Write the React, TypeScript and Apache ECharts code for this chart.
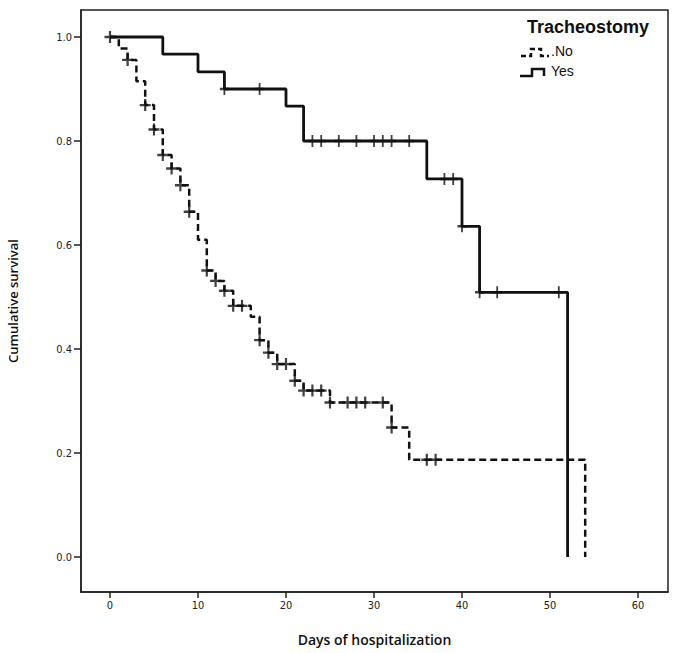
import React, { useEffect, useRef } from "react";
import * as echarts from "echarts";

// Kaplan–Meier step data
const noTimes = [0, 1, 2, 3, 4, 5, 6, 7, 8, 9, 10, 11, 12, 13, 14, 16, 17, 18, 19, 21, 22, 25, 32, 34, 54];
const noSurv = [1, 0.978, 0.956, 0.915, 0.869, 0.822, 0.773, 0.747, 0.715, 0.664, 0.61, 0.551, 0.531, 0.512, 0.483, 0.462, 0.417, 0.393, 0.371, 0.339, 0.32, 0.297, 0.249, 0.187, 0];
const noCensored = [0, 2, 4, 5, 6, 7, 8, 9, 11, 12, 13, 14, 15, 17, 18, 19, 20, 21, 22, 23, 24, 25, 27, 28, 29, 31, 32, 36, 37];

const yesTimes = [0, 6, 10, 13, 20, 22, 36, 40, 42, 52];
const yesSurv = [1, 0.967, 0.933, 0.9, 0.867, 0.8, 0.727, 0.636, 0.509, 0];
const yesCensored = [13, 17, 23, 24, 26, 28, 30, 31, 32, 34, 38, 39, 40, 42, 44, 51];

const xTicks = [0, 10, 20, 30, 40, 50, 60];
const yTicks = [0, 0.2, 0.4, 0.6, 0.8, 1.0];

const legendTitle = "Tracheostomy";
const groupNames = ["No", "Yes"];

function stepAt(times: number[], surv: number[], t: number) {
  let v = surv[0];
  for (let i = 0; i < times.length; i++) {
    if (times[i] <= t) v = surv[i];
  }
  return v;
}

const PLUS = "path://M4,0H6V4H10V6H6V10H4V6H0V4H4Z";

export default function App() {
  const ref = useRef<HTMLDivElement>(null);
  useEffect(() => {
    if (!ref.current) return;
    const chart = echarts.init(ref.current, null, { renderer: "svg" });
    const labelFont = "'Liberation Sans Narrow', 'DejaVu Sans Condensed', 'Liberation Sans', sans-serif";
    const option: any = {
      animation: false,
      backgroundColor: "#fff",
      grid: {
        left: 81,
        right: 7,
        top: 10,
        bottom: 61,
        show: true,
        borderColor: "#222",
        borderWidth: 1.5,
        containLabel: false,
        outerBoundsMode: "none",
      },
      xAxis: {
        type: "value",
        min: (81 - 110) / 8.8,
        max: (668 - 110) / 8.8,
        name: "Days of hospitalization",
        nameLocation: "middle",
        nameGap: 40,
        nameTextStyle: { fontFamily: "'Open Sans', sans-serif", fontWeight: 600, fontSize: 14, color: "#111" },
        axisLine: { show: true, onZero: false, lineStyle: { color: "#222", width: 1.5 } },
        axisTick: { show: true, customValues: xTicks, length: 6, lineStyle: { color: "#222", width: 1.5 } },
        axisLabel: {
          customValues: xTicks,
          fontFamily: labelFont,
          fontSize: 11,
          color: "#222",
          margin: 8,
          formatter: (v: number) => String(Math.round(v)),
        },
        splitLine: { show: false },
      },
      yAxis: {
        type: "value",
        min: -(592 - 557) / 520,
        max: 1 + (37 - 10) / 520,
        name: "Cumulative survival",
        nameLocation: "middle",
        nameGap: 62,
        nameTextStyle: { fontFamily: "'Open Sans', sans-serif", fontWeight: 600, fontSize: 13, color: "#111" },
        axisLine: { show: true, onZero: false, lineStyle: { color: "#222", width: 1.5 } },
        axisTick: { show: true, customValues: yTicks, length: 7, lineStyle: { color: "#222", width: 1.5 } },
        axisLabel: {
          customValues: yTicks,
          fontFamily: labelFont,
          fontSize: 11,
          color: "#222",
          margin: 9,
          formatter: (v: number) => v.toFixed(1),
        },
        splitLine: { show: false },
      },
      series: [
        {
          name: groupNames[0],
          type: "line",
          step: "end",
          showSymbol: false,
          symbol: "none",
          lineStyle: { color: "#111", width: 2.5, type: [7, 4] },
          data: noTimes.map((t, i) => [t, noSurv[i]]),
          z: 2,
        },
        {
          name: groupNames[1],
          type: "line",
          step: "end",
          showSymbol: false,
          symbol: "none",
          lineStyle: { color: "#111", width: 2.8 },
          data: yesTimes.map((t, i) => [t, yesSurv[i]]),
          z: 3,
        },
        {
          name: groupNames[0] + " censored",
          type: "scatter",
          symbol: PLUS,
          symbolSize: [11, 12],
          itemStyle: { color: "#111" },
          data: noCensored.map((t) => [t, stepAt(noTimes, noSurv, t)]),
          z: 4,
        },
        {
          name: groupNames[1] + " censored",
          type: "scatter",
          symbol: PLUS,
          symbolSize: [9, 12],
          itemStyle: { color: "#111" },
          data: yesCensored.map((t) => [t, stepAt(yesTimes, yesSurv, t)]),
          z: 4,
        },
      ],
      graphic: [
        {
          type: "text",
          left: 527,
          top: 18,
          style: { text: legendTitle, fontFamily: "'Liberation Sans', Arial, sans-serif", fontWeight: "bold", fontSize: 18, fill: "#111" },
        },
        {
          type: "polyline",
          shape: { points: [[521, 56], [531, 56], [531, 49], [541, 49], [541, 56], [549, 56]] },
          style: { stroke: "#111", lineWidth: 2.5, lineDash: [5, 3], fill: "none" },
        },
        {
          type: "text",
          left: 551,
          top: 44,
          style: { text: "." + groupNames[0], fontFamily: "'Liberation Sans', Arial, sans-serif", fontSize: 14, fill: "#111" },
        },
        {
          type: "polyline",
          shape: { points: [[520, 76], [532, 76], [532, 69], [544, 69], [544, 76]] },
          style: { stroke: "#111", lineWidth: 2.5, fill: "none" },
        },
        {
          type: "text",
          left: 551,
          top: 64,
          style: { text: groupNames[1], fontFamily: "'Liberation Sans', Arial, sans-serif", fontSize: 14, fill: "#111" },
        },
      ],
    };
    chart.setOption(option);
    return () => chart.dispose();
  }, []);
  return (
    <div
      ref={ref}
      style={{ position: "fixed", left: 0, top: 0, width: 675, height: 653, background: "#fff" }}
    />
  );
}
